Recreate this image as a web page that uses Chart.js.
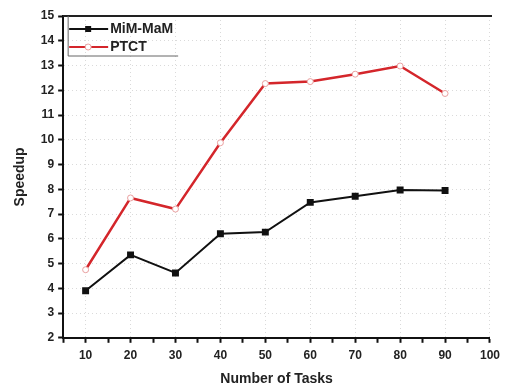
<!DOCTYPE html>
<html>
<head>
<meta charset="utf-8">
<script src="https://cdn.jsdelivr.net/npm/chart.js@4"></script>
<style>
  html, body { margin: 0; padding: 0; background: #fff; }
  #wrap { width: 506px; height: 390px; }
</style>
</head>
<body>
<div id="wrap"><canvas id="myChart" width="506" height="390"></canvas></div>
<script>
const tasks = [10, 20, 30, 40, 50, 60, 70, 80, 90];
const mimMam = [3.9, 5.35, 4.62, 6.2, 6.27, 7.47, 7.72, 7.97, 7.95];
const ptct = [4.75, 7.65, 7.2, 9.88, 12.27, 12.35, 12.65, 12.98, 11.87];
const seriesNames = ['MiM-MaM', 'PTCT'];

const FONT = '"Liberation Sans", Arial, sans-serif';

// top frame line + legend box inside plot
const framePlugin = {
  id: 'frame',
  afterDraw(chart) {
    const ctx = chart.ctx;
    const a = chart.chartArea;
    ctx.save();
    ctx.strokeStyle = '#222';
    ctx.lineWidth = 2;
    ctx.beginPath();
    ctx.moveTo(a.left, a.top);
    ctx.lineTo(a.right + 2, a.top);
    ctx.stroke();

    // legend
    const lx = a.left + 5, ly = a.top, lw = 110, lh = 40;
    ctx.strokeStyle = '#666';
    ctx.lineWidth = 1;
    ctx.beginPath();
    ctx.moveTo(lx, ly);
    ctx.lineTo(lx, ly + lh);
    ctx.lineTo(lx + lw, ly + lh);
    ctx.stroke();

    chart.data.datasets.forEach((ds, i) => {
      const y = ly + 13 + i * 18;
      ctx.strokeStyle = ds.borderColor;
      ctx.lineWidth = 2;
      ctx.beginPath();
      ctx.moveTo(lx + 1, y);
      ctx.lineTo(lx + 40, y);
      ctx.stroke();
      const mx = lx + 20;
      if (ds.pointStyle === 'rect') {
        ctx.fillStyle = ds.pointBackgroundColor;
        ctx.fillRect(mx - 3, y - 3, 6, 6);
      } else {
        ctx.fillStyle = '#fff';
        ctx.strokeStyle = ds.pointBorderColor;
        ctx.lineWidth = 1;
        ctx.beginPath();
        ctx.arc(mx, y, 3, 0, Math.PI * 2);
        ctx.fill();
        ctx.stroke();
      }
      ctx.fillStyle = '#222';
      ctx.font = 'bold 14px ' + FONT;
      ctx.textBaseline = 'middle';
      ctx.fillText(ds.label, lx + 42, y);
    });
    ctx.restore();
  }
};

const data = {
  datasets: [{
    label: seriesNames[0],
    data: tasks.map((t, i) => ({x: t, y: mimMam[i]})),
    borderColor: '#111',
    borderWidth: 2,
    pointStyle: 'rect',
    pointRadius: 3.5,
    pointBackgroundColor: '#111',
    pointBorderColor: '#111',
    tension: 0
  }, {
    label: seriesNames[1],
    data: tasks.map((t, i) => ({x: t, y: ptct[i]})),
    borderColor: '#d4262b',
    borderWidth: 2.5,
    pointStyle: 'circle',
    pointRadius: 3,
    pointBackgroundColor: '#fff',
    pointBorderColor: '#e9a0a0',
    pointBorderWidth: 1,
    tension: 0
  }]
};

const gridColor = (ctx) => {
  const v = ctx.tick && ctx.tick.value;
  return (v % 10 === 0) ? 'rgba(150,150,150,0.35)' : 'rgba(0,0,0,0)';
};

const config = {
  type: 'line',
  data: data,
  options: {
    responsive: false,
    animation: false,
    layout: { padding: { left: 8, right: 4, top: 16, bottom: 0 } },
    plugins: { legend: { display: false }, tooltip: { enabled: false } },
    scales: {
      x: {
        type: 'linear',
        min: 5, max: 100,
        ticks: {
          stepSize: 5,
          autoSkip: false,
          maxRotation: 0,
          color: '#222',
          padding: 6,
          font: { family: FONT, size: 12, weight: 'bold' },
          callback: v => (v % 10 === 0 ? v : '')
        },
        grid: {
          color: gridColor,
          tickColor: '#111',
          tickLength: 5,
          tickWidth: 2
        },
        border: { display: true, color: '#111', width: 2, dash: [1, 3] },
        title: {
          display: true,
          text: 'Number of Tasks',
          color: '#222',
          padding: { top: 2, bottom: 2 },
          font: { family: FONT, size: 14, weight: 'bold' }
        }
      },
      y: {
        min: 2, max: 15,
        ticks: {
          stepSize: 1,
          color: '#222',
          padding: 4,
          font: { family: FONT, size: 12, weight: 'bold' }
        },
        grid: {
          color: 'rgba(150,150,150,0.35)',
          tickColor: '#111',
          tickLength: 5,
          tickWidth: 2
        },
        border: { display: true, color: '#111', width: 2, dash: [1, 3] },
        title: {
          display: true,
          text: 'Speedup',
          color: '#222',
          padding: { bottom: 8 },
          font: { family: FONT, size: 14, weight: 'bold' }
        }
      }
    }
  },
  plugins: [framePlugin]
};

const myChart = new Chart(document.getElementById('myChart'), config);
</script>
</body>
</html>
